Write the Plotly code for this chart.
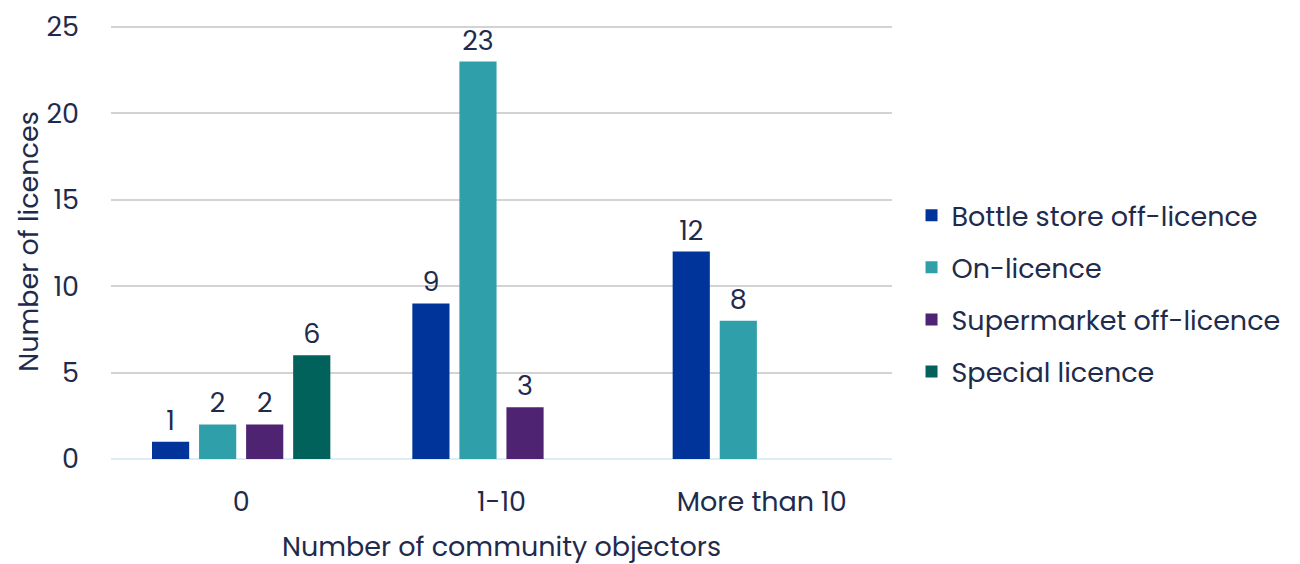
import plotly.graph_objects as go

categories = ["0", "1-10", "More than 10"]
series_names = ["Bottle store off-licence", "On-licence", "Supermarket off-licence", "Special licence"]
bottle_store = [1, 9, 12]
on_licence = [2, 23, 8]
supermarket = [2, 3, None]
special = [6, None, None]
colors = ["#00349a", "#2fa0aa", "#4e2372", "#01625c"]
y_ticks = [0, 5, 10, 15, 20, 25]

text_color = "#1f2b4d"
font_family = "Poppins, Inter, Open Sans, sans-serif"
fs = 27

fig = go.Figure()
for i, (name, vals, col) in enumerate(zip(series_names, [bottle_store, on_licence, supermarket, special], colors)):
    fig.add_trace(go.Bar(
        x=categories, y=vals, name=name, legendgroup=f"g{i}",
        marker=dict(color=col, line=dict(width=0)),
        text=[("" if v is None else str(v)) for v in vals],
        textposition="outside", cliponaxis=False,
        textfont=dict(size=fs, color=text_color, family=font_family),
    ))

fig.update_layout(
    width=1300, height=564,
    margin=dict(l=103, r=416, t=16, b=113, autoexpand=False),
    paper_bgcolor="white", plot_bgcolor="white",
    barmode="group", bargap=0.277, bargroupgap=0.21,
    font=dict(family=font_family, color=text_color, size=fs),
    showlegend=True,
    legend=dict(x=1.025, y=0.38, xanchor="left", yanchor="middle",
                font=dict(size=fs, color=text_color), tracegroupgap=14,
                itemwidth=30, traceorder="grouped"),
    xaxis=dict(title=dict(text="Number of community objectors", font=dict(size=fs), standoff=18),
               showgrid=False, showline=False, ticks="", ticklabelstandoff=24,
               tickfont=dict(size=fs), automargin=False),
    yaxis=dict(title=dict(text="Number of licences", font=dict(size=fs), standoff=0),
               range=[0, 25.17], tickvals=y_ticks, ticklabeloverflow="allow",
               showgrid=True, gridcolor="#d3d3d3", gridwidth=2,
               zeroline=True, zerolinecolor="#dcedf4", zerolinewidth=2,
               showline=False, ticks="", ticklabelstandoff=31,
               tickfont=dict(size=fs), automargin=False),
)

fig.write_html("out.html")
